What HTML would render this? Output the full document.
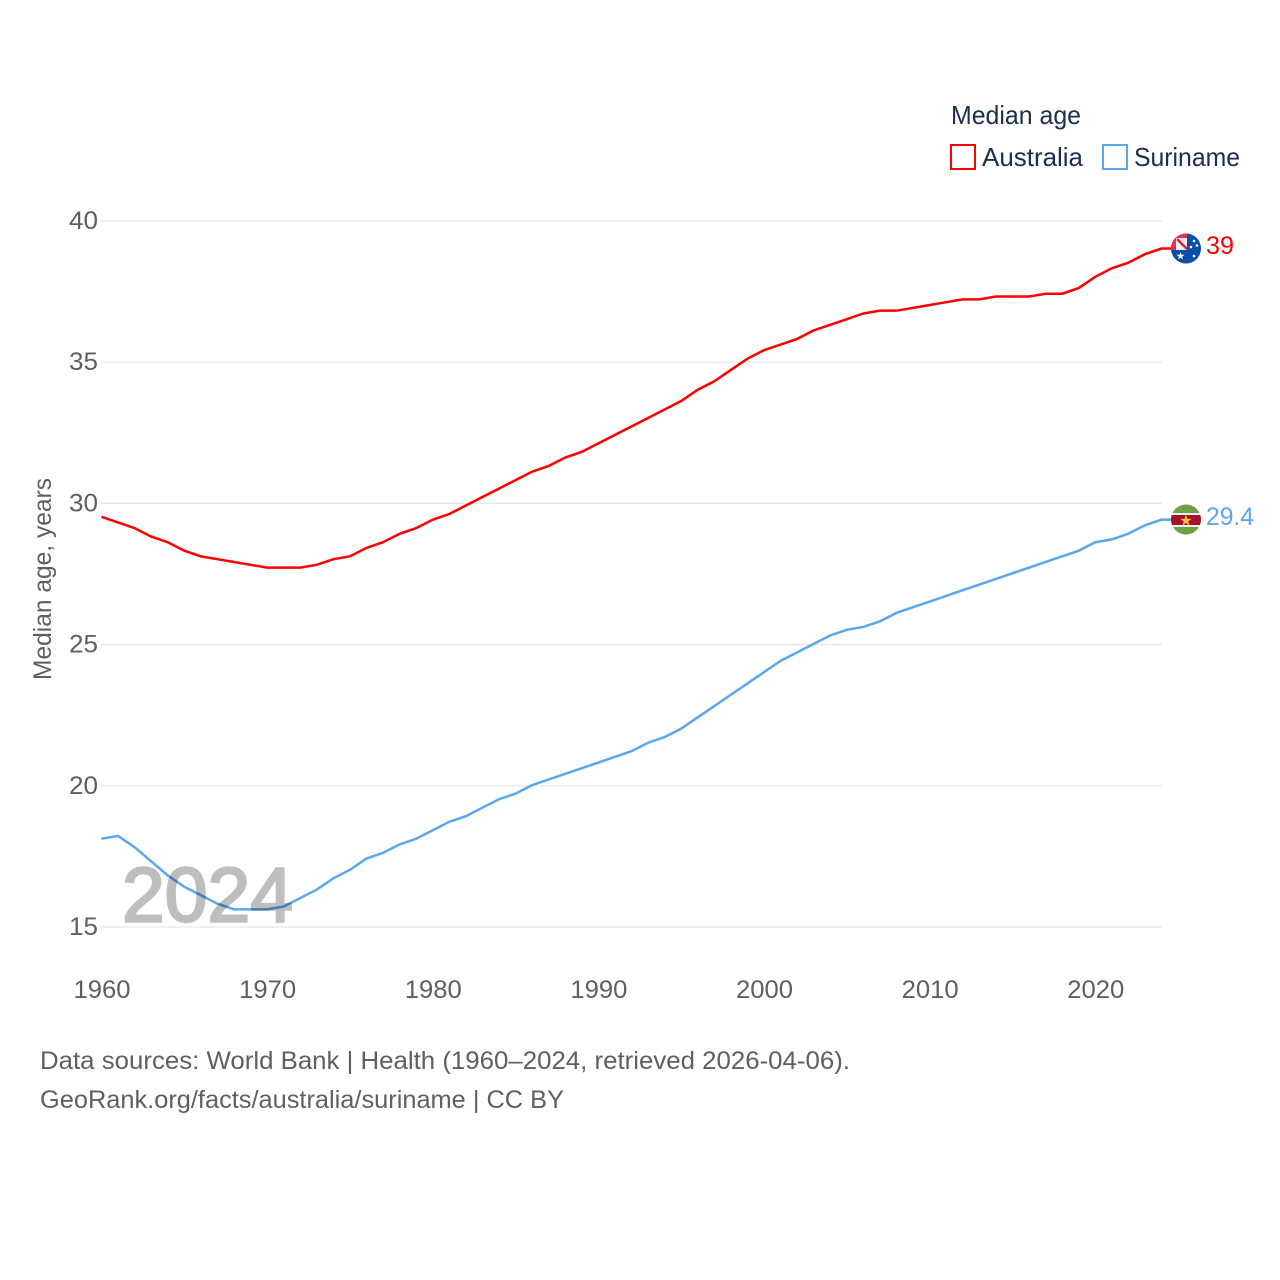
<!DOCTYPE html>
<html lang="en">
<head>
<meta charset="utf-8">
<title>Median age: Australia and Suriname</title>
<style>
html,body{margin:0;padding:0;background:#fff}
svg{display:block}
text{font-family:"Liberation Sans",sans-serif}
.tick{font-size:25px;fill:#5f5f5f}
.foot{font-size:25px;fill:#5f5f5f}
.leg{font-size:26px;fill:#1a2f4f}
</style>
</head>
<body>
<svg id="chart" xmlns="http://www.w3.org/2000/svg" width="1280" height="1280" viewBox="0 0 1280 1280">
  <defs>
    <clipPath id="clip-au"><circle cx="1186" cy="248.5" r="15"/></clipPath>
    <clipPath id="clip-sr"><circle cx="1186" cy="519.5" r="15"/></clipPath>
  </defs>
  <rect width="1280" height="1280" fill="#fff"/>
  <g id="grid"></g>
  <g id="yticks"></g>
  <g id="xticks"></g>
  <text transform="translate(51,680) rotate(-90)" font-size="25" fill="#5f5f5f" textLength="202" lengthAdjust="spacingAndGlyphs">Median age, years</text>
  <g id="series" transform="translate(0,-0.7)"></g>
  <text x="122" y="921.500" font-size="77" font-weight="400" fill="#000" stroke="#000" stroke-width="2.500" opacity="0.25" textLength="171" lengthAdjust="spacingAndGlyphs">2024</text>

  <g clip-path="url(#clip-au)">
    <rect x="1171" y="233" width="30" height="31" fill="#0a4eaa"/>
    <rect x="1171" y="233" width="16" height="17" fill="#e0324a"/>
    <rect x="1176" y="238" width="11" height="12" fill="#f0eef4"/>
    <path d="M1177 239L1187 249" stroke="#d8213c" stroke-width="2.500"/>
    <polygon points="1180.500,252 1181.500,254.800 1184.500,254.800 1182.200,256.600 1183,259.500 1180.500,257.800 1178,259.500 1178.800,256.600 1176.500,254.800 1179.500,254.800" fill="#f4f4f8"/>
    <circle cx="1194" cy="241" r="1.300" fill="#fff"/>
    <circle cx="1197" cy="245.500" r="1.300" fill="#fff"/>
    <circle cx="1191" cy="247" r="1.300" fill="#fff"/>
    <circle cx="1194" cy="256" r="1.300" fill="#fff"/>
  </g>
  <g clip-path="url(#clip-sr)">
    <rect x="1171" y="504" width="30" height="31" fill="#6ea044"/>
    <rect x="1171" y="513" width="30" height="14" fill="#f2f2f2"/>
    <rect x="1171" y="515" width="30" height="10" fill="#a8102f"/>
    <text x="1186" y="525.500" text-anchor="middle" font-size="15" fill="#f7c82e" style="font-family:'DejaVu Sans',sans-serif">★</text>
  </g>
  <text x="1206" y="254" font-size="25" fill="#ff0000" textLength="28" lengthAdjust="spacingAndGlyphs">39</text>
  <text x="1206" y="525" font-size="25" fill="#5ba7ee" textLength="48" lengthAdjust="spacingAndGlyphs">29.4</text>

  <g>
    <text class="leg" x="951" y="124" textLength="130" lengthAdjust="spacingAndGlyphs">Median age</text>
    <rect x="951" y="145" width="24" height="24" fill="#fff" stroke="#ff0000" stroke-width="2"/>
    <text class="leg" x="982" y="166" textLength="101" lengthAdjust="spacingAndGlyphs">Australia</text>
    <rect x="1103" y="145" width="24" height="24" fill="#fff" stroke="#5ba7ee" stroke-width="2"/>
    <text class="leg" x="1134" y="166" textLength="106" lengthAdjust="spacingAndGlyphs">Suriname</text>
  </g>

  <text class="foot" x="40" y="1069" textLength="810" lengthAdjust="spacingAndGlyphs">Data sources: World Bank | Health (1960–2024, retrieved 2026-04-06).</text>
  <text class="foot" x="40" y="1108" textLength="524" lengthAdjust="spacingAndGlyphs">GeoRank.org/facts/australia/suriname | CC BY</text>
</svg>
<script>
const firstYear = 1960;
const australia = [29.5,29.3,29.1,28.8,28.6,28.3,28.1,28.0,27.9,27.8,27.7,27.7,27.7,27.8,28.0,28.1,28.4,28.6,28.9,29.1,29.4,29.6,29.9,30.2,30.5,30.8,31.1,31.3,31.6,31.8,32.1,32.4,32.7,33.0,33.3,33.6,34.0,34.3,34.7,35.1,35.4,35.6,35.8,36.1,36.3,36.5,36.7,36.8,36.8,36.9,37.0,37.1,37.2,37.2,37.3,37.3,37.3,37.4,37.4,37.6,38.0,38.3,38.5,38.8,39.0];
const suriname = [18.1,18.2,17.8,17.3,16.8,16.4,16.1,15.8,15.6,15.6,15.6,15.7,16.0,16.3,16.7,17.0,17.4,17.6,17.9,18.1,18.4,18.7,18.9,19.2,19.5,19.7,20.0,20.2,20.4,20.6,20.8,21.0,21.2,21.5,21.7,22.0,22.4,22.8,23.2,23.6,24.0,24.4,24.7,25.0,25.3,25.5,25.6,25.8,26.1,26.3,26.5,26.7,26.9,27.1,27.3,27.5,27.7,27.9,28.1,28.3,28.6,28.7,28.9,29.2,29.4];
const yTickValues = [15,20,25,30,35,40];
const xTickValues = [1960,1970,1980,1990,2000,2010,2020];

const NS = 'http://www.w3.org/2000/svg';
function xScale(year) { return 101.5 + (year - 1960) * (1161.5 - 101.5) / 64; }
function yScale(v) { return 927 - (v - 15) * (927 - 221) / 25; }

const gridGroup = document.getElementById('grid');
const yGroup = document.getElementById('yticks');
const xGroup = document.getElementById('xticks');
const seriesGroup = document.getElementById('series');

yTickValues.forEach(function (v) {
  const line = document.createElementNS(NS, 'line');
  
  
  line.setAttribute('x1', 101);
  line.setAttribute('x2', 1162);
  line.setAttribute('y1', yScale(v));
  line.setAttribute('y2', yScale(v));
  line.setAttribute('stroke', '#e6e6e6');
  line.setAttribute('stroke-width', '1.2');
  gridGroup.appendChild(line);

  const label = document.createElementNS(NS, 'text');
  
  
  label.setAttribute('class', 'tick');
  label.setAttribute('x', 69);
  label.setAttribute('y', yScale(v) + 8);
  label.setAttribute('textLength', '29');
  label.setAttribute('lengthAdjust', 'spacingAndGlyphs');
  label.textContent = String(v);
  yGroup.appendChild(label);
});

xTickValues.forEach(function (year) {
  const label = document.createElementNS(NS, 'text');
  
  
  label.setAttribute('class', 'tick');
  label.setAttribute('x', xScale(year) - 28);
  label.setAttribute('y', 998);
  label.setAttribute('textLength', '57');
  label.setAttribute('lengthAdjust', 'spacingAndGlyphs');
  label.textContent = String(year);
  xGroup.appendChild(label);
});

function pathFor(values) {
  let d = values.map(function (v, i) {
    return (i ? 'L' : 'M') + xScale(firstYear + i).toFixed(2) + ' ' + yScale(v).toFixed(2);
  }).join('');
  d += 'L1175 ' + yScale(values[values.length - 1]).toFixed(2);
  return d;
}

const australiaLine = document.createElementNS(NS, 'path');


australiaLine.setAttribute('d', pathFor(australia));
australiaLine.setAttribute('fill', 'none');
australiaLine.setAttribute('stroke', '#ff0000');
australiaLine.setAttribute('stroke-width', '2.500');
seriesGroup.appendChild(australiaLine);

const surinameLine = document.createElementNS(NS, 'path');


surinameLine.setAttribute('d', pathFor(suriname));
surinameLine.setAttribute('fill', 'none');
surinameLine.setAttribute('stroke', '#5ba7ee');
surinameLine.setAttribute('stroke-width', '2.500');
seriesGroup.appendChild(surinameLine);
</script>
</body>
</html>
